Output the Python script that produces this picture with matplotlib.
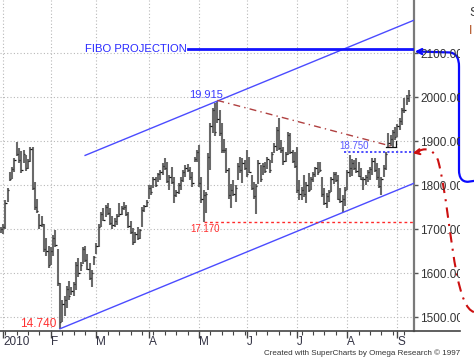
import matplotlib
matplotlib.use("Agg")
import matplotlib.pyplot as plt
from matplotlib.path import Path
from matplotlib.patches import PathPatch
from matplotlib.lines import Line2D
from matplotlib.transforms import Bbox
import pandas as pd

# daily bars (Dec 31 2009 .. Sep 8 2010)
high = [1706, 1712, 1767, 1793, 1831, 1842, 1862, 1899, 1885, 1878,
        1880, 1868, 1860, 1888, 1888, 1808, 1770, 1735, 1730, 1712,
        1680, 1662, 1660, 1688, 1698, 1655, 1578, 1540, 1548, 1572,
        1582, 1570, 1580, 1626, 1634, 1625, 1660, 1662, 1645, 1623,
        1607, 1640, 1668, 1712, 1740, 1748, 1755, 1759, 1748, 1730,
        1725, 1735, 1759, 1752, 1763, 1755, 1740, 1718, 1702, 1695,
        1705, 1700, 1750, 1755, 1766, 1801, 1800, 1820, 1818, 1828,
        1835, 1850, 1861, 1854, 1823, 1842, 1820, 1790, 1805, 1818,
        1835, 1846, 1848, 1842, 1831, 1865, 1880, 1891, 1820, 1789,
        1785, 1873, 1941, 1975, 1986, 1991, 1971, 1941, 1905, 1884,
        1839, 1804, 1812, 1801, 1850, 1865, 1862, 1858, 1880, 1865,
        1823, 1808, 1804, 1857, 1846, 1850, 1854, 1865, 1858, 1876,
        1895, 1933, 1953, 1903, 1888, 1876, 1922, 1918, 1880, 1876,
        1888, 1812, 1797, 1823, 1808, 1827, 1820, 1831, 1842, 1854,
        1854, 1820, 1793, 1782, 1790, 1820, 1831, 1831, 1823, 1793,
        1778, 1797, 1835, 1869, 1860, 1857, 1862, 1852, 1840, 1820,
        1824, 1835, 1842, 1861, 1861, 1850, 1839, 1820, 1846, 1876,
        1918, 1914, 1925, 1933, 1940, 1952, 1975, 1998, 2005, 2017]
low = [1692, 1690, 1700, 1762, 1810, 1815, 1830, 1866, 1850, 1828,
       1850, 1832, 1838, 1852, 1790, 1745, 1738, 1700, 1706, 1648,
       1640, 1612, 1618, 1640, 1660, 1572, 1474, 1490, 1502, 1522,
       1540, 1550, 1548, 1562, 1592, 1605, 1622, 1626, 1607, 1585,
       1570, 1618, 1645, 1660, 1706, 1718, 1729, 1732, 1710, 1700,
       1706, 1710, 1729, 1732, 1744, 1730, 1702, 1690, 1665, 1670,
       1675, 1678, 1706, 1740, 1750, 1770, 1778, 1793, 1796, 1808,
       1812, 1823, 1835, 1805, 1790, 1804, 1760, 1773, 1780, 1790,
       1808, 1820, 1830, 1812, 1797, 1852, 1854, 1797, 1760, 1717,
       1736, 1789, 1835, 1918, 1911, 1941, 1911, 1873, 1873, 1827,
       1770, 1748, 1775, 1763, 1812, 1827, 1805, 1835, 1819, 1827,
       1789, 1768, 1735, 1804, 1808, 1823, 1827, 1838, 1827, 1850,
       1873, 1878, 1880, 1873, 1846, 1853, 1869, 1870, 1850, 1839,
       1782, 1767, 1767, 1774, 1759, 1785, 1790, 1808, 1820, 1823,
       1831, 1774, 1755, 1748, 1763, 1785, 1804, 1808, 1767, 1759,
       1740, 1752, 1789, 1820, 1822, 1835, 1828, 1818, 1812, 1789,
       1800, 1808, 1812, 1823, 1830, 1812, 1793, 1778, 1820, 1835,
       1888, 1890, 1888, 1903, 1910, 1926, 1937, 1964, 1983, 1990]
close = [1700, 1705, 1760, 1790, 1815, 1838, 1858, 1872, 1858, 1835,
         1872, 1840, 1855, 1882, 1795, 1750, 1742, 1710, 1712, 1655,
         1650, 1620, 1650, 1680, 1665, 1578, 1490, 1530, 1540, 1565,
         1548, 1560, 1575, 1620, 1600, 1618, 1655, 1630, 1610, 1590,
         1600, 1638, 1662, 1705, 1735, 1722, 1750, 1738, 1715, 1710,
         1720, 1730, 1735, 1748, 1750, 1735, 1708, 1695, 1672, 1690,
         1680, 1698, 1745, 1752, 1762, 1795, 1785, 1815, 1800, 1825,
         1830, 1845, 1840, 1810, 1818, 1808, 1778, 1785, 1800, 1812,
         1830, 1840, 1835, 1818, 1805, 1860, 1876, 1805, 1770, 1778,
         1780, 1865, 1935, 1970, 1920, 1950, 1918, 1880, 1880, 1835,
         1778, 1790, 1780, 1795, 1845, 1835, 1850, 1840, 1825, 1830,
         1795, 1775, 1798, 1850, 1815, 1845, 1832, 1860, 1835, 1872,
         1890, 1925, 1885, 1880, 1855, 1870, 1915, 1875, 1855, 1845,
         1790, 1780, 1790, 1780, 1800, 1790, 1815, 1825, 1840, 1830,
         1835, 1780, 1760, 1775, 1785, 1815, 1825, 1812, 1770, 1765,
         1770, 1790, 1830, 1840, 1850, 1840, 1832, 1822, 1815, 1815,
         1820, 1830, 1838, 1855, 1835, 1818, 1798, 1815, 1840, 1870,
         1895, 1905, 1920, 1910, 1935, 1945, 1970, 1970, 1998, 2005]
dates = pd.bdate_range("2009-12-31", periods=len(high))

month_labels = ["2010", "F", "M", "A", "M", "J", "J", "A", "S"]
price_ticks = [1500, 1600, 1700, 1800, 1900, 2000, 2100]

# levels marked on the chart
peak_high = 1991.5     # 19.915
may_low = 1717.0       # 17.170
feb_low = 1474.0       # 14.740
break_level = 1875.0   # 18.750
fibo_level = 2110.0
channel_slope = 2.13   # points per bar
fan_end = (172, 1888)  # end of the dash-dot line from the peak

plt.rcParams["font.family"] = ["Liberation Sans", "DejaVu Sans"]

fig = plt.figure(figsize=(4.74, 3.63), dpi=100)
ax = fig.add_axes([0, 32 / 363, 414 / 474, 331 / 363])
ax.set_xlim(-0.32, 181.26)
ax.set_ylim(1468.9, 2221.1)

idx = list(range(len(high)))
ax.vlines(idx, low, high, color="#6a6a6a", lw=1.5, zorder=3)
ax.hlines(close, idx, [i + 0.55 for i in idx], color="#111111", lw=0.9, zorder=4)

# grid
month_pos = [i for i in idx if i > 0 and dates[i].month != dates[i - 1].month]
for x in month_pos:
    ax.axvline(x, color="#b8b8b8", lw=0.8, ls=(0, (1, 2)), zorder=1)
for y in price_ticks:
    ax.axhline(y, color="#b8b8b8", lw=0.8, ls=(0, (1, 2)), zorder=1)

# channel
i_low = low.index(min(low))
i_peak = high.index(max(high[:150]))
x_end = ax.get_xlim()[1]
ax.plot([i_low, x_end], [feb_low, feb_low + channel_slope * (x_end - i_low)],
        color="#4b4bff", lw=1.0, zorder=5)
x_up = 37
ax.plot([x_up, x_end], [peak_high + channel_slope * (x_up - i_peak),
                        peak_high + channel_slope * (x_end - i_peak)],
        color="#4b4bff", lw=1.0, zorder=5)

# dash-dot from peak
ax.plot([i_peak, fan_end[0]], [peak_high + 1.5, fan_end[1]], color="#b04040", lw=1.0,
        ls=(0, (5, 3, 1, 3)), zorder=5)
ax.plot([fan_end[0] - 3, fan_end[0] + 1.5, fan_end[0] + 1.5], [fan_end[1], fan_end[1], fan_end[1] + 12],
        color="#111111", lw=0.9, zorder=5)

# levels
ax.plot([89, x_end], [may_low, may_low], color="#ff2a2a", lw=1.0, ls=(0, (2, 2)), zorder=5)
ax.plot([150.5, x_end], [break_level, break_level], color="#4040ff", lw=1.3, ls=(0, (1.2, 1.2)), zorder=5)
ax.plot([82, x_end], [fibo_level, fibo_level], color="#1414ff", lw=2.0, zorder=5)

ax.text(36.8, fibo_level, "FIBO PROJECTION", color="#2a2aff", fontsize=8.1,
        ha="left", va="center", zorder=6)
ax.text(i_peak - 5, 2005, f"{peak_high / 100:.3f}", color="#3b3bff",
        fontsize=8, ha="center", va="center", zorder=6)
ax.text(89.8, may_low - 6, f"{may_low / 100:.3f}", color="#ff3030",
        fontsize=7, ha="center", va="top", zorder=6)
ax.text(i_low - 1.5, feb_low + 11, f"{feb_low / 100:.3f}", color="#ff3030",
        fontsize=8.5, ha="right", va="center", zorder=6)
ax.text(155, break_level + 2, f"{break_level / 100:.3f}", color="#5a5aff",
        fontsize=7, ha="center", va="bottom", zorder=6)

# curved arrows right of the price scale
blue_path = Path(
    [(182.6, 2104), (196.2, 2102), (199.7, 2102), (201.0, 2090), (201.0, 2069),
     (201.0, 1835), (201.0, 1817), (202.3, 1808), (204.9, 1808), (207.6, 1810)],
    [Path.MOVETO, Path.LINETO, Path.CURVE4, Path.CURVE4, Path.CURVE4,
     Path.LINETO, Path.CURVE4, Path.CURVE4, Path.CURVE4, Path.LINETO])
ax.add_patch(PathPatch(blue_path, fill=False, edgecolor="#0a0aff", lw=1.6, clip_on=False))
ax.annotate("", xy=(181.6, 2104), xytext=(184.5, 2104), annotation_clip=False,
            arrowprops=dict(arrowstyle="->", color="#0a0aff", lw=1.6, mutation_scale=9,
                            shrinkA=0, shrinkB=0))
red_path = Path(
    [(182.5, 1875), (185.5, 1886), (189.5, 1886), (191.8, 1857),
     (195.3, 1789), (197.0, 1676), (200.1, 1596),
     (201.9, 1551), (204.1, 1517), (207.6, 1512)],
    [Path.MOVETO, Path.CURVE4, Path.CURVE4, Path.CURVE4,
     Path.CURVE4, Path.CURVE4, Path.CURVE4,
     Path.CURVE4, Path.CURVE4, Path.CURVE4])
ax.add_patch(PathPatch(red_path, fill=False, edgecolor="#cc1010", lw=1.5,
                       ls=(0, (5, 3, 1, 3)), clip_on=False))
ax.annotate("", xy=(180.7, 1873), xytext=(183.5, 1876), annotation_clip=False,
            arrowprops=dict(arrowstyle="->", color="#cc1010", lw=1.5, mutation_scale=9,
                            shrinkA=0, shrinkB=0))

# axes styling
for s in ["top", "left", "bottom"]:
    ax.spines[s].set_visible(False)
ax.spines["right"].set_color("#7a7a7a")
ax.spines["right"].set_linewidth(1.6)
ax.yaxis.tick_right()
ax.set_yticks(price_ticks)
ax.set_yticklabels([f"{p:.2f}" for p in price_ticks])
ax.tick_params(axis="y", length=3, width=1, color="#555555", pad=1.5,
               labelsize=8.5, labelcolor="#333333")
# the chart panel ends at x=460 px, so the price labels get cut there
panel = Bbox.from_extents(0, 0, 460, 363)
for lab in ax.get_yticklabels():
    lab.set_clip_box(panel)
    lab.set_clip_on(True)
ax.set_xticks(month_pos)
ax.set_xticklabels([])
ax.set_xticks([i for i in idx if dates[i].weekday() == 0], minor=True)
ax.tick_params(axis="x", which="major", length=5, width=1, color="#444444")
ax.tick_params(axis="x", which="minor", length=3, width=0.8, color="#444444")
ax.patch.set_alpha(0)

fig.add_artist(Line2D([0, 460 / 474], [32 / 363, 32 / 363], color="#444444", lw=1.2))

for x, lab in zip(month_pos, month_labels):
    ax.text(x, -0.014, lab, transform=ax.get_xaxis_transform(), ha="left", va="top",
            fontsize=8.5, color="#333344")

fig.text(460 / 474, 10 / 363, "Created with SuperCharts by Omega Research \u00a9 1997",
         ha="right", va="center", fontsize=5.8, color="#333333")
fig.text(469 / 474, 1 - 13 / 363, "S", ha="left", va="center", fontsize=9, color="#333333")
fig.text(469 / 474, 1 - 31 / 363, "I", ha="left", va="center", fontsize=9, color="#b05020")

fig.savefig("out.png", dpi=100, facecolor="white")
